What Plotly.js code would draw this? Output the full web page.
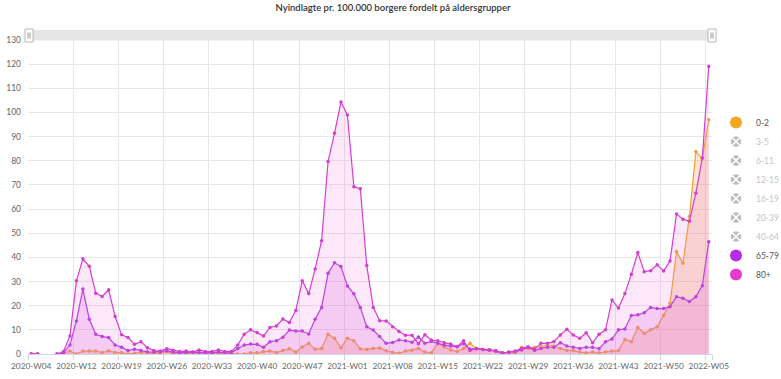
<!DOCTYPE html>
<html>
<head>
<meta charset="utf-8">
<script src="https://cdn.plot.ly/plotly-3.0.1.min.js"></script>
<style>html,body{margin:0;padding:0;background:#fff}#chart{width:781px;height:379px}</style>
</head>
<body>
<div id="chart"></div>
<script>
// Week categories (x axis)
const weeks = [
 "2020-W04","2020-W05","2020-W07","2020-W08","2020-W09","2020-W10","2020-W11","2020-W12","2020-W13","2020-W14",
 "2020-W15","2020-W16","2020-W17","2020-W18","2020-W19","2020-W20","2020-W21","2020-W22","2020-W23","2020-W24",
 "2020-W25","2020-W26","2020-W27","2020-W28","2020-W29","2020-W30","2020-W31","2020-W32","2020-W33","2020-W34",
 "2020-W35","2020-W36","2020-W37","2020-W38","2020-W39","2020-W40","2020-W41","2020-W42","2020-W43","2020-W44",
 "2020-W45","2020-W46","2020-W47","2020-W48","2020-W49","2020-W50","2020-W51","2020-W52","2020-W53","2021-W01",
 "2021-W02","2021-W03","2021-W04","2021-W05","2021-W06","2021-W07","2021-W08","2021-W09","2021-W10","2021-W11",
 "2021-W12","2021-W13","2021-W14","2021-W15","2021-W16","2021-W17","2021-W18","2021-W19","2021-W20","2021-W21",
 "2021-W22","2021-W23","2021-W24","2021-W25","2021-W26","2021-W27","2021-W28","2021-W29","2021-W30","2021-W31",
 "2021-W32","2021-W33","2021-W34","2021-W35","2021-W36","2021-W37","2021-W38","2021-W39","2021-W40","2021-W41",
 "2021-W42","2021-W43","2021-W44","2021-W45","2021-W46","2021-W47","2021-W48","2021-W49","2021-W50","2021-W51",
 "2021-W52","2022-W01","2022-W02","2022-W03","2022-W04","2022-W05"
];

// Tick labels shown on the x axis
const tickWeeks = ["2020-W04","2020-W12","2020-W19","2020-W26","2020-W33","2020-W40","2020-W47","2021-W01",
 "2021-W08","2021-W15","2021-W22","2021-W29","2021-W36","2021-W43","2021-W50","2022-W05"];

// Series values (per 100.000)
const age0_2 = [
 0,0,null,null,0,0.3,1.2,0,1.2,1.2,
 1.2,0.6,1.3,0.6,0.6,0,0.3,0.7,0.3,0.5,
 0.3,1,0.3,0.5,0.3,0,0.5,0,0.3,0.5,
 0,0.3,0,0,0.5,0.5,1,1.2,0.6,1.5,
 2.2,0.8,2.9,4.4,2,2.3,8.2,6.5,2.6,6.5,
 5.5,2.1,1.9,2.3,2.5,1.3,0.7,0.3,1.2,1.6,
 2.3,0.8,0.5,4.4,3,1.7,1,2.3,4.4,2.3,
 1.9,1.9,1,0.6,0.6,0.5,2.8,2.3,2.8,3,
 3.7,3.3,2.3,1.5,1.5,0.8,0.5,0.8,0.5,0.8,
 1.2,1.5,6,5.1,11,8.6,10,11.3,16,21,
 42.4,37.6,56.9,83.8,81,97
];
const age65_79 = [
 0,0,null,null,0,0.5,3.7,13.7,26.9,14.4,
 8.2,7.2,6.8,3.7,2.8,1.4,2,1.4,0.9,0.8,
 0.9,1.3,0.8,0.6,0.6,0.8,0.6,0.5,0.5,0.8,
 0.5,0.6,2.3,3.7,4.1,4,2.8,5.1,5.5,6.9,
 9.9,9.5,9.5,8.3,14.4,19.3,33.4,37.8,36.2,28.2,
 24.9,19.3,11.3,9.9,7.2,4.4,4.8,5.8,5.5,4.9,
 7,4.5,5.2,4.4,3.7,3.3,3,4.2,2,2.2,
 1.9,1.6,1.2,0.5,0.7,1,1.7,2.8,1.4,2.3,
 2.8,2.8,4.7,3.3,2.8,2.3,2.8,2.8,2.2,5.1,
 6.2,10,10.4,15.9,16.2,17.1,19.3,18.8,18.8,19.6,
 23.7,23.1,21.7,23.7,28.3,46.5
];
const age80 = [
 0,0,null,null,0,1,7.5,30.3,39.4,36.3,
 25.2,23.8,26.6,15.5,8,6.8,4,5.1,2.6,1.4,
 1.2,2.2,1.6,1,1.2,0.8,1.7,1,1,1.7,
 1,1,3.7,8.2,10,8.9,7.5,11,11.6,14.5,
 13,18,30.3,25,35.2,46.9,79.7,91.4,104.3,99,
 69.2,68.4,36.6,19.3,13.8,13.7,11.3,9.3,7.8,7.8,
 4.2,8,5.8,5.5,4.7,4.1,3,5.5,1.4,2.3,
 1.9,1.7,1.4,0.3,0.8,1.2,2.3,3,2,4.4,
 4.4,5.1,7.9,10.2,7.9,6.5,8.8,4.7,8.2,10,
 22.4,19,25,33,42,34.1,34.5,36.9,34.4,38.5,
 58,55.8,55,66.6,81.1,119
];

// Legend entries
const legendNames = ["0-2","3-5","6-11","12-15","16-19","20-39","40-64","65-79","80+"];
const legendShown = [true,false,false,false,false,false,false,true,true];
const legendColors = ["#f5a623","#bdbdbd","#bdbdbd","#bdbdbd","#bdbdbd","#bdbdbd","#bdbdbd","#b52ee6","#e83ad1"];

const FONT = "Lato, 'Open Sans', sans-serif";

function areaTrace(name, y, lineColor, fillColor) {
  return {
    type: "scatter", mode: "lines+markers", name: name,
    x: weeks, y: y,
    line: {color: lineColor, width: 1.2},
    marker: {color: lineColor, size: 3.5},
    fill: "tozeroy", fillcolor: fillColor,
    connectgaps: false, showlegend: false, hoverinfo: "x+y+name"
  };
}

const traces = [
  areaTrace("0-2", age0_2, "#f0a030", "rgba(245,150,80,0.26)"),
  areaTrace("65-79", age65_79, "#b13ae0", "rgba(215,90,225,0.22)"),
  areaTrace("80+", age80, "#d43fcf", "rgba(242,120,222,0.17)")
];

legendNames.forEach(function(n, i) {
  const shown = legendShown[i];
  traces.push({
    type: "scatter", mode: "markers", x: [null], y: [null],
    name: shown ? n : '<span style="color:#c4c4c4">' + n + '</span>',
    marker: shown ? {color: legendColors[i], size: 12, symbol: "circle"}
                  : {color: legendColors[i], size: 12, symbol: "circle-x", line: {color: "#ffffff", width: 1.5}},
    showlegend: true, hoverinfo: "skip"
  });
});

const px = v => (v - 28) / 684;     // pixel x -> paper x
const py = v => (354 - v) / 314;    // pixel y -> paper y

const shapes = [
  {type: "rect", xref: "paper", yref: "paper", x0: px(27), x1: px(714), y0: py(40.5), y1: py(30), fillcolor: "#e6e6e6", line: {width: 0}, layer: "above"},
  {type: "rect", xref: "paper", yref: "paper", x0: px(25), x1: px(33), y0: py(42), y1: py(29), fillcolor: "#ffffff", line: {color: "#b8b8b8", width: 1}, layer: "above"},
  {type: "rect", xref: "paper", yref: "paper", x0: px(708), x1: px(716), y0: py(42), y1: py(29), fillcolor: "#ffffff", line: {color: "#b8b8b8", width: 1}, layer: "above"},
  {type: "line", xref: "paper", yref: "paper", x0: px(28), x1: px(28), y0: py(32.5), y1: py(38.5), line: {color: "#999", width: 1}, layer: "above"},
  {type: "line", xref: "paper", yref: "paper", x0: px(30), x1: px(30), y0: py(32.5), y1: py(38.5), line: {color: "#999", width: 1}, layer: "above"},
  {type: "line", xref: "paper", yref: "paper", x0: px(711), x1: px(711), y0: py(32.5), y1: py(38.5), line: {color: "#999", width: 1}, layer: "above"},
  {type: "line", xref: "paper", yref: "paper", x0: px(713), x1: px(713), y0: py(32.5), y1: py(38.5), line: {color: "#999", width: 1}, layer: "above"}
];

const layout = {
  width: 781, height: 379,
  margin: {l: 28, r: 69, t: 40, b: 25, pad: 0, autoexpand: false},
  paper_bgcolor: "#ffffff", plot_bgcolor: "#ffffff",
  font: {family: FONT, size: 8.5, color: "#666666"},
  title: {
    text: "Nyindlagte pr. 100.000 borgere fordelt på aldersgrupper",
    font: {family: FONT, size: 9.5, color: "#333333", weight: 600},
    x: 393 / 781, xref: "container", xanchor: "center",
    y: 1 - 8 / 379, yref: "container", yanchor: "middle"
  },
  xaxis: {
    type: "category", categoryorder: "array", categoryarray: weeks,
    range: [-0.5, weeks.length - 0.5], autorange: false,
    tickmode: "array", tickvals: tickWeeks, ticktext: tickWeeks,
    tickson: "boundaries",
    ticks: "outside", ticklen: 5, tickcolor: "#ccd6eb", tickwidth: 1,
    ticklabelstandoff: 4,
    showgrid: true, gridcolor: "#e6e6e6", gridwidth: 1,
    showline: true, linecolor: "#ccd6eb", linewidth: 1,
    zeroline: false, tickangle: 0, automargin: false,
    tickfont: {family: FONT, size: 8.3, color: "#666666"}
  },
  yaxis: {
    range: [0, 130], autorange: false, dtick: 10, tick0: 0,
    showgrid: true, gridcolor: "#e6e6e6", gridwidth: 1,
    zeroline: false, showline: false, ticks: "", automargin: false,
    ticklabelstandoff: 6,
    tickfont: {family: FONT, size: 8.5, color: "#666666"}
  },
  legend: {
    x: px(716), xanchor: "left", y: py(198.5), yanchor: "middle",
    orientation: "v", bgcolor: "rgba(0,0,0,0)", borderwidth: 0,
    font: {family: FONT, size: 8.5, color: "#555555"},
    itemclick: false, itemdoubleclick: false
  },
  shapes: shapes,
  showlegend: true
};

Plotly.newPlot("chart", traces, layout, {displayModeBar: false, responsive: false});
</script>
</body>
</html>
